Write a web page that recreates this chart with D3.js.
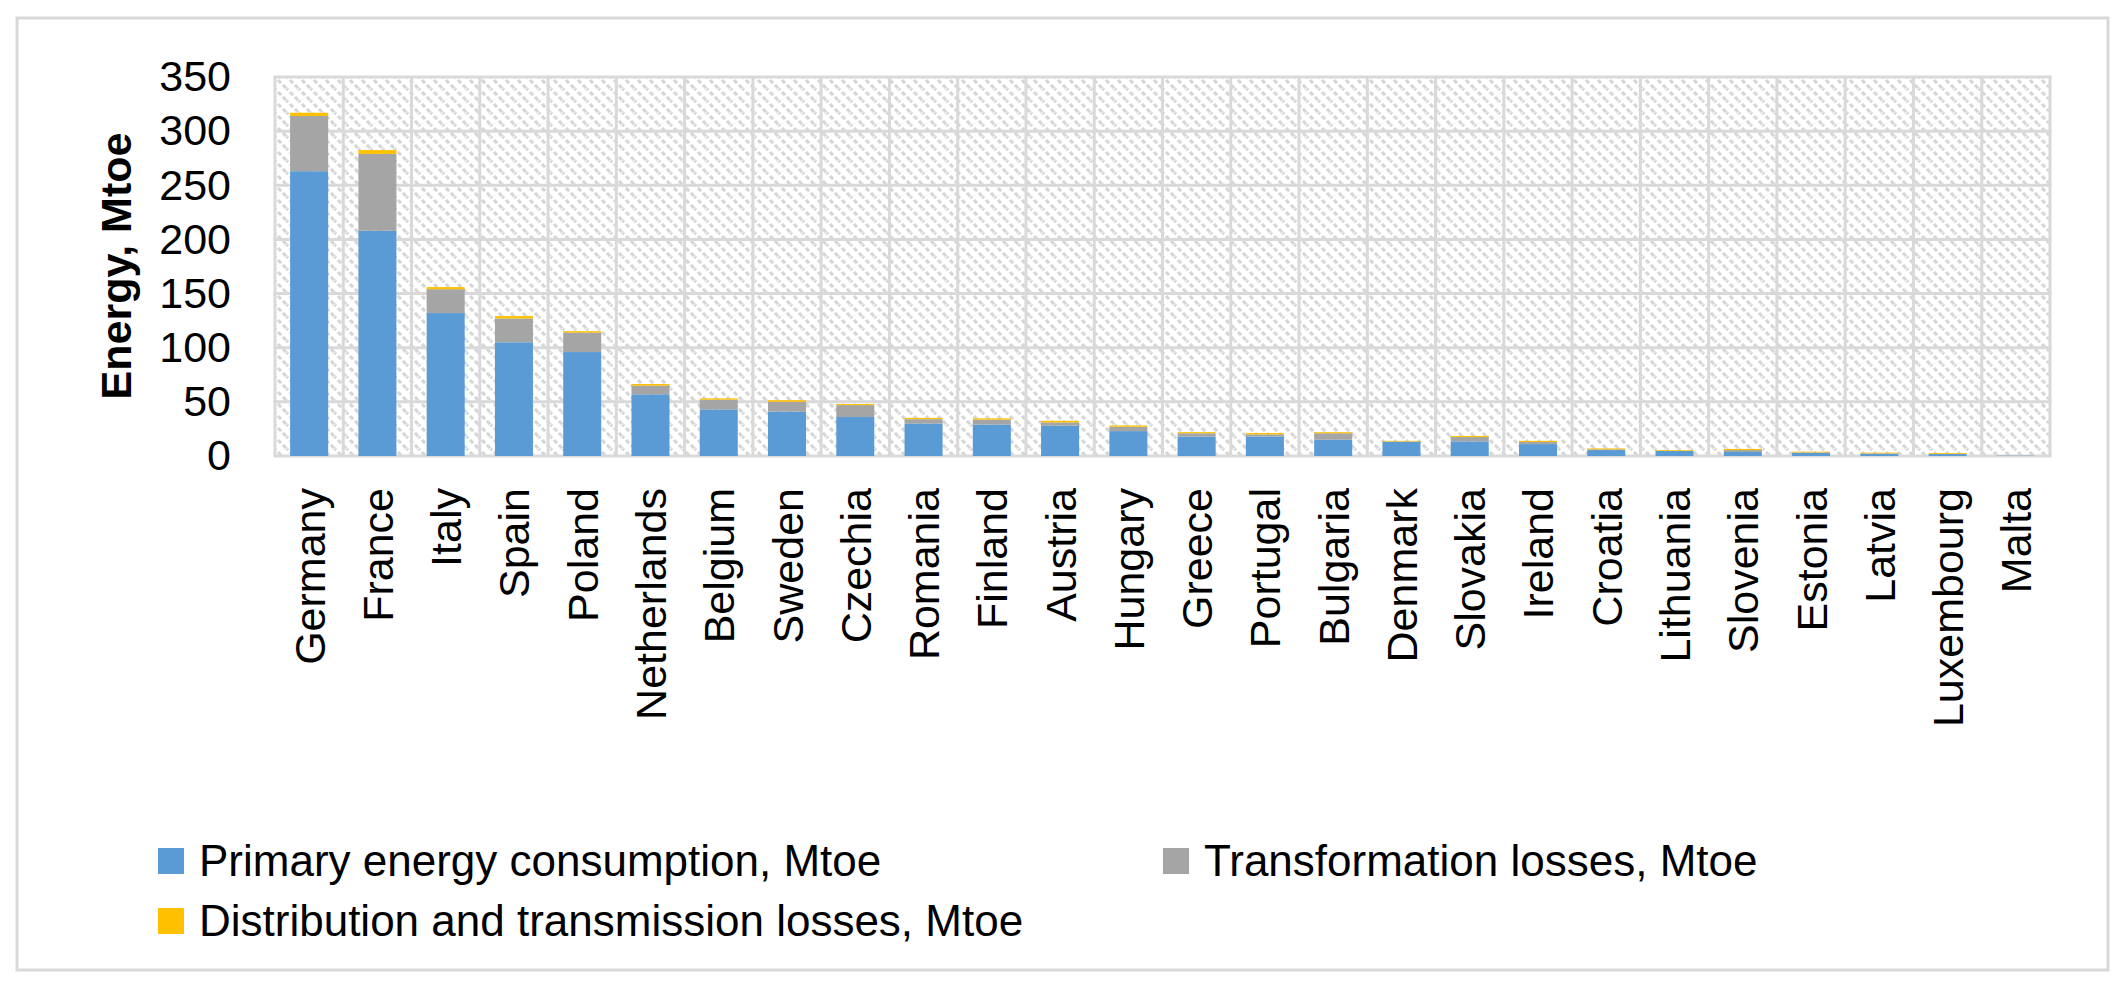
<!DOCTYPE html>
<html>
<head>
<meta charset="utf-8">
<script src="https://cdn.jsdelivr.net/npm/d3@7"></script>
<style>
  body { margin: 0; background: #fff; }
  svg { display: block; }
</style>
</head>
<body>
<svg id="chart" width="2128" height="986"></svg>
<script>
// values (Mtoe)
const countries = ["Germany", "France", "Italy", "Spain", "Poland", "Netherlands", "Belgium",
  "Sweden", "Czechia", "Romania", "Finland", "Austria", "Hungary", "Greece", "Portugal",
  "Bulgaria", "Denmark", "Slovakia", "Ireland", "Croatia", "Lithuania", "Slovenia",
  "Estonia", "Latvia", "Luxembourg", "Malta"];
const primary = [263, 208, 132, 105, 96, 57, 43, 41, 36, 30, 29, 28, 23, 18, 18,
  15, 13, 13.5, 11, 5.5, 4.6, 3.7, 2.8, 2.1, 1.8, 0.3];
const transformation = [51, 71, 22, 22, 18, 8, 9, 9, 11, 4, 4.6, 3, 4, 3, 2,
  6, 0.4, 4, 2, 0.6, 0.2, 1.8, 0.5, 0.3, 0.2, 0.05];
const distribution = [3, 3.5, 2, 2.2, 1.3, 1.5, 1.2, 1.5, 1, 1.2, 1.2, 1.5, 1.2, 1, 1.2,
  1, 0.6, 1, 1, 0.9, 0.7, 1, 0.7, 0.7, 0.8, 0.05];
const seriesNames = ["Primary energy consumption, Mtoe", "Transformation losses, Mtoe",
  "Distribution and transmission losses, Mtoe"];
const seriesKeys = ["primary", "transformation", "distribution"];
const colors = ["#5B9BD5", "#A5A5A5", "#FFC000"];
const yTicks = [0, 50, 100, 150, 200, 250, 300, 350];

const rows = countries.map((c, i) => ({
  country: c,
  primary: primary[i],
  transformation: transformation[i],
  distribution: distribution[i]
}));

const svg = d3.select("#chart");
const margin = {left: 275, right: 78, top: 77, bottom: 530};
const W = 2128, H = 986;
const plotW = W - margin.left - margin.right;
const plotH = H - margin.top - margin.bottom;
const font = "'Liberation Sans', Arial, sans-serif";

// outer frame
svg.append("rect")
    .attr("x", 17).attr("y", 18)
    .attr("width", W - 17 - 20).attr("height", H - 18 - 16)
    .attr("fill", "#fff")
    .attr("stroke", "#D9D9D9")
    .attr("stroke-width", 3);

// hatch fill for the plot area
const defs = svg.append("defs");
const pat = defs.append("pattern")
    .attr("id", "hatch")
    .attr("patternUnits", "userSpaceOnUse")
    .attr("width", 12).attr("height", 12);
pat.append("rect").attr("width", 12).attr("height", 12).attr("fill", "#fff");
pat.append("path")
    .attr("d", "M-2,-2L14,14M-2,10L2,14M10,-2L14,2")
    .attr("stroke", "#D6D6D6")
    .attr("stroke-width", 3)
    .attr("stroke-dasharray", "4.5,2.5");

const x = d3.scaleBand()
    .domain(countries)
    .range([0, plotW])
    .paddingInner(0.443)
    .paddingOuter(0.2215);

const y = d3.scaleLinear()
    .domain([0, 350])
    .range([plotH, 0]);

const g = svg.append("g")
    .attr("transform", `translate(${margin.left},${margin.top})`);

g.append("rect")
    .attr("width", plotW).attr("height", plotH)
    .attr("fill", "url(#hatch)");

// grid
const step = x.step();
g.append("g")
  .selectAll("line")
  .data(d3.range(countries.length + 1))
  .join("line")
    .attr("x1", i => i * step).attr("x2", i => i * step)
    .attr("y1", 0).attr("y2", plotH)
    .attr("stroke", "#D9D9D9")
    .attr("stroke-width", 3);

g.append("g")
  .selectAll("line")
  .data(yTicks)
  .join("line")
    .attr("x1", -1.5).attr("x2", plotW + 1.5)
    .attr("y1", d => y(d)).attr("y2", d => y(d))
    .attr("stroke", "#D9D9D9")
    .attr("stroke-width", 3);

// stacked bars
const stack = d3.stack().keys(seriesKeys)(rows);

g.append("g")
  .selectAll("g")
  .data(stack)
  .join("g")
    .attr("fill", (d, i) => colors[i])
  .selectAll("rect")
  .data(d => d)
  .join("rect")
    .attr("x", d => x(d.data.country))
    .attr("width", x.bandwidth())
    .attr("y", d => y(d[1]))
    .attr("height", d => Math.max(0, y(d[0]) - y(d[1])));

// y axis labels
const yAxis = g.append("g")
    .call(d3.axisLeft(y).tickValues(yTicks).tickSize(0).tickPadding(44));
yAxis.select(".domain").remove();
yAxis.selectAll("text")
    .attr("font-family", font)
    .attr("font-size", 43)
    .attr("fill", "#000");

// x axis labels
const xAxis = g.append("g")
    .attr("transform", `translate(0,${plotH})`)
    .call(d3.axisBottom(x).tickSize(0).tickPadding(0));
xAxis.select(".domain").remove();
xAxis.selectAll("text")
    .attr("font-family", font)
    .attr("font-size", 43)
    .attr("fill", "#000")
    .attr("text-anchor", "end")
    .attr("transform", "translate(0,32) rotate(-90)")
    .attr("dy", "0.36em")
    .attr("y", 0)
    .attr("x", 0);

// y title
svg.append("text")
    .attr("transform", `translate(131,266) rotate(-90)`)
    .attr("text-anchor", "middle")
    .attr("font-family", font)
    .attr("font-weight", "bold")
    .attr("font-size", 43)
    .text("Energy, Mtoe");

// legend
const legendPos = [[158, 861], [1163, 861], [158, 921]];
const legend = svg.append("g")
  .selectAll("g")
  .data(seriesNames)
  .join("g")
    .attr("transform", (d, i) => `translate(${legendPos[i][0]},${legendPos[i][1]})`);

legend.append("rect")
    .attr("x", 0).attr("y", -13)
    .attr("width", 26).attr("height", 26)
    .attr("fill", (d, i) => colors[i]);

legend.append("text")
    .attr("x", 41)
    .attr("dy", "0.35em")
    .attr("font-family", font)
    .attr("font-size", 44)
    .text(d => d);
</script>
</body>
</html>
